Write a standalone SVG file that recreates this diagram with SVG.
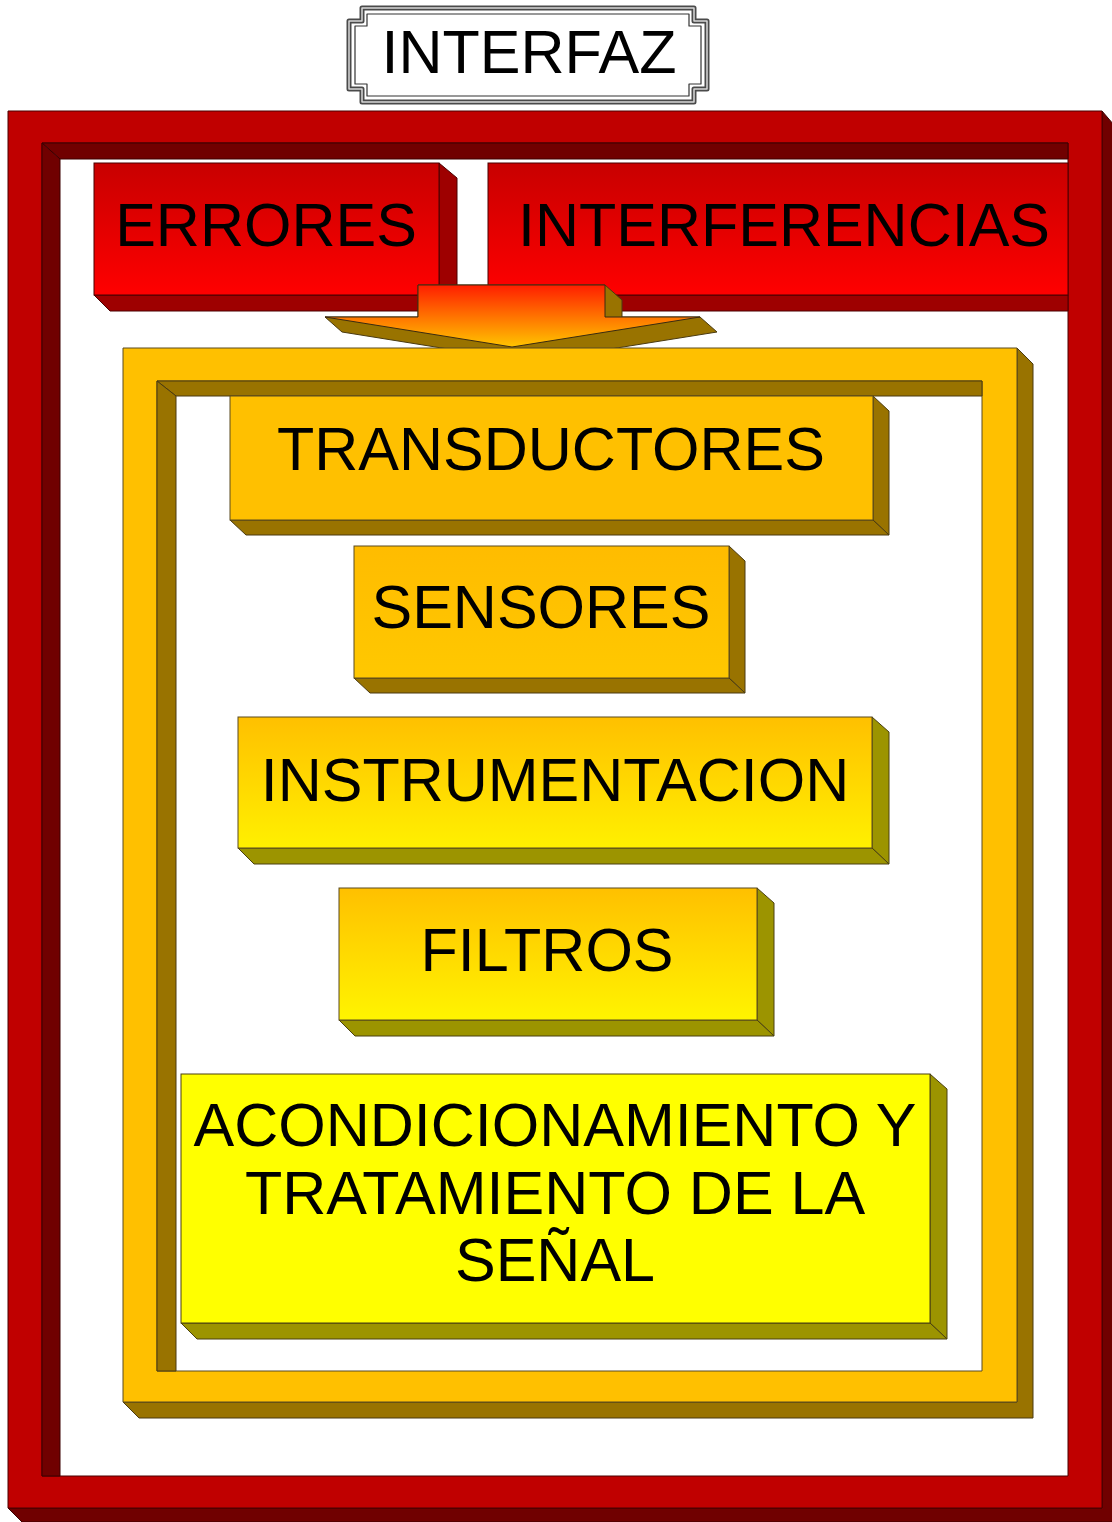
<svg xmlns="http://www.w3.org/2000/svg" width="1112" height="1522" viewBox="0 0 1112 1522">
<defs>
<linearGradient id="gRed" x1="0" y1="0" x2="0" y2="1">
<stop offset="0" stop-color="#C80000"/><stop offset="1" stop-color="#FF0000"/>
</linearGradient>
<linearGradient id="gArrow" gradientUnits="userSpaceOnUse" x1="0" y1="285" x2="0" y2="347">
<stop offset="0" stop-color="#FF1E00"/><stop offset="0.55" stop-color="#FF7A00"/><stop offset="1" stop-color="#FFC400"/>
</linearGradient>
<linearGradient id="gSens" x1="0" y1="0" x2="0" y2="1">
<stop offset="0" stop-color="#FFBC00"/><stop offset="1" stop-color="#FFC800"/>
</linearGradient>
<linearGradient id="gInst" x1="0" y1="0" x2="0" y2="1">
<stop offset="0" stop-color="#FFC000"/><stop offset="1" stop-color="#FFF000"/>
</linearGradient>
<linearGradient id="gFilt" x1="0" y1="0" x2="0" y2="1">
<stop offset="0" stop-color="#FFC000"/><stop offset="1" stop-color="#FFF400"/>
</linearGradient>
</defs>
<style>
.lbl{font-family:"Liberation Sans",Arial,sans-serif;font-size:61px;fill:#000;text-anchor:middle}
.edge{stroke:#3a2a10;stroke-width:1;stroke-linejoin:round}
.redF{fill:#C00000;stroke:#4a0000;stroke-width:1}
.redD{fill:#700000;stroke:#3a0000;stroke-width:1}
.redS{fill:#9E0000;stroke:#4a0000;stroke-width:1}
.orF{fill:#FFC000;stroke:#5a4a20;stroke-width:1}
.orD{fill:#997300;stroke:#4a3a10;stroke-width:1}
.olD{fill:#9C9400;stroke:#4a4010;stroke-width:1}
</style>
<rect width="1112" height="1522" fill="#FFFFFF"/>

<g id="title">
<path d="M362,8 H694 V21 H707 V89 H694 V102 H362 V89 H349 V21 H362 Z" fill="#FFFFFF" stroke="#4a4a4a" stroke-width="5" stroke-linejoin="round"/>
<path d="M362,8 H694 V21 H707 V89 H694 V102 H362 V89 H349 V21 H362 Z" fill="none" stroke="#d8d8d8" stroke-width="1.5" stroke-linejoin="round"/>
<path d="M367,14 H689 V26 H701 V84 H689 V96 H367 V84 H355 V26 H367 Z" fill="none" stroke="#333" stroke-width="1.2" stroke-linejoin="round"/>
<text class="lbl" x="529" y="73">INTERFAZ</text>
</g>

<g id="red-frame">
<polygon class="redD" points="1102,111 1114,125 1114,1522 22,1522 8,1508 1102,1508"/>
<path class="redF" fill-rule="evenodd" d="M8,111 H1102 V1508 H8 Z M42,143 V1476 H1068 V143 Z"/>
<polygon class="redD" points="42,143 1068,143 1068,159 60,159"/>
<polygon class="redD" points="42,143 60,159 60,1476 42,1476"/>
</g>

<g id="errores">
<polygon class="redS" points="439,163 457,178 457,311 439,295"/>
<polygon class="redS" points="94,295 439,295 457,311 110,311"/>
<rect x="94" y="163" width="345" height="132" fill="url(#gRed)" stroke="#4a0000" stroke-width="1"/>
<text class="lbl" x="266" y="246">ERRORES</text>
</g>

<g id="interferencias">
<polygon class="redS" points="488,295 1068,295 1068,311 504,311"/>
<rect x="488" y="163" width="580" height="132" fill="url(#gRed)" stroke="#4a0000" stroke-width="1"/>
<text class="lbl" x="784" y="246">INTERFERENCIAS</text>
</g>

<g id="connectors">
<polygon class="orD" points="418,285 605,285 622,300 622,317 700,317 717,332 529,362 342,332 325,317 418,317"/>
<path d="M418,285 H605 V317 H700 L512,347 L325,317 H418 Z" fill="url(#gArrow)" class="edge"/>
</g>

<g id="orange-frame">
<polygon class="orD" points="1017,348 1033,364 1033,1418 139,1418 123,1402 1017,1402"/>
<path class="orF" fill-rule="evenodd" d="M123,348 H1017 V1402 H123 Z M157,381 V1371 H982 V381 Z"/>
<polygon class="orD" points="157,381 982,381 982,396 176,396"/>
<polygon class="orD" points="157,381 176,396 176,1371 157,1371"/>
</g>

<g id="transductores">
<polygon class="orD" points="873,396 889,411 889,535 873,520"/>
<polygon class="orD" points="230,520 873,520 889,535 246,535"/>
<rect class="orF" x="230" y="396" width="643" height="124"/>
<text class="lbl" x="551" y="470">TRANSDUCTORES</text>
</g>

<g id="sensores">
<polygon class="orD" points="729,546 745,561 745,693 729,678"/>
<polygon class="orD" points="354,678 729,678 745,693 370,693"/>
<rect x="354" y="546" width="375" height="132" fill="url(#gSens)" stroke="#5a4a20" stroke-width="1"/>
<text class="lbl" x="541" y="628">SENSORES</text>
</g>

<g id="instrumentacion">
<polygon class="olD" points="872,717 889,732 889,864 872,848"/>
<polygon class="olD" points="238,848 872,848 889,864 254,864"/>
<rect x="238" y="717" width="634" height="131" fill="url(#gInst)" stroke="#5a4a20" stroke-width="1"/>
<text class="lbl" x="555" y="801">INSTRUMENTACION</text>
</g>

<g id="filtros">
<polygon class="olD" points="757,888 774,903 774,1036 757,1020"/>
<polygon class="olD" points="339,1020 757,1020 774,1036 355,1036"/>
<rect x="339" y="888" width="418" height="132" fill="url(#gFilt)" stroke="#5a4a20" stroke-width="1"/>
<text class="lbl" x="547" y="971">FILTROS</text>
</g>

<g id="acondicionamiento">
<polygon class="olD" points="930,1074 947,1089 947,1339 930,1323"/>
<polygon class="olD" points="181,1323 930,1323 947,1339 197,1339"/>
<rect x="181" y="1074" width="749" height="249" fill="#FFFF00" stroke="#4a4010" stroke-width="1"/>
<text class="lbl" x="555" y="1146">ACONDICIONAMIENTO Y</text>
<text class="lbl" x="555" y="1214">TRATAMIENTO DE LA</text>
<text class="lbl" x="555" y="1281">SEÑAL</text>
</g>
</svg>
